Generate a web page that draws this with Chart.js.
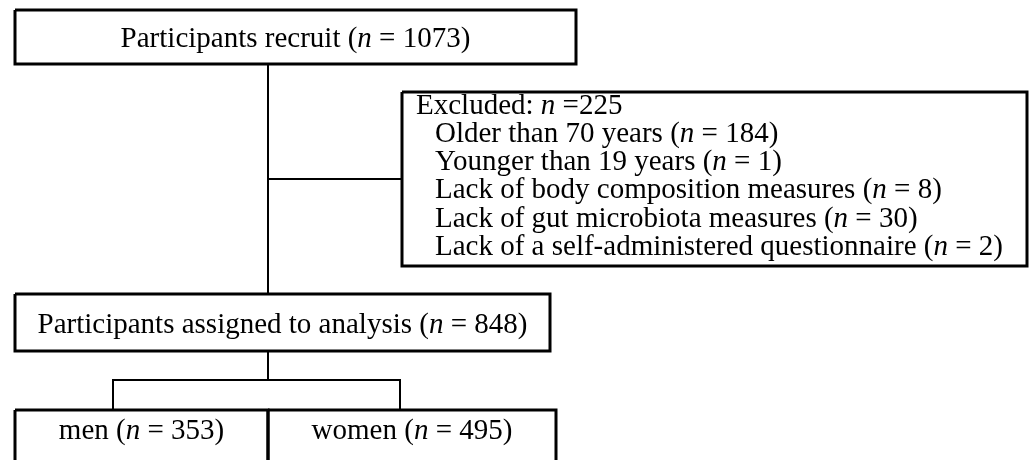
<!DOCTYPE html>
<html>
<head>
<meta charset="utf-8">
<script src="https://cdn.jsdelivr.net/npm/chart.js"></script>
<style>
  html, body { margin: 0; padding: 0; background: #fff; }
  #wrap { width: 1030px; height: 460px; }
</style>
</head>
<body>
<div id="wrap"><canvas id="flow" width="1030" height="460"></canvas></div>
<script>
// flow data
var stageLabels = ['Participants recruit', 'Participants assigned to analysis'];
var stageCounts = [1073, 848];
var excludedTotal = 225;
var exclusionReasons = [
  'Older than 70 years',
  'Younger than 19 years',
  'Lack of body composition measures',
  'Lack of gut microbiota measures',
  'Lack of a self-administered questionnaire'
];
var exclusionCounts = [184, 1, 8, 30, 2];
var groupLabels = ['men', 'women'];
var groupCounts = [353, 495];

// layout, in scale units (x 0..1030, y 0..460 top-down)
var boxTop = { l: 15, t: 10, r: 576, b: 64 };
var boxExcl = { l: 402, t: 92, r: 1027, b: 266 };
var boxAssigned = { l: 15, t: 294, r: 550, b: 351 };
var boxMen = { l: 15, t: 410, r: 268, b: 475 };
var boxWomen = { l: 268, t: 410, r: 556, b: 475 };
var stemX = 268, exclY = 179, splitY = 380, dropL = 113, dropR = 400;

var FONT = '29px "Liberation Serif", "Times New Roman", serif';
var LINE_H = 28.3;

function rect(b) {
  return [{x: b.l, y: b.t}, {x: b.r, y: b.t}, {x: b.r, y: b.b}, {x: b.l, y: b.b}, {x: b.l, y: b.t}];
}
function lineSet(pts, w) {
  return {
    data: pts, showLine: true, borderColor: '#000', borderWidth: w,
    pointRadius: 0, fill: false, tension: 0, borderJoinStyle: 'miter', borderCapStyle: 'butt'
  };
}

var datasets = [
  lineSet([{x: stemX, y: boxTop.b}, {x: stemX, y: boxAssigned.t}], 2),
  lineSet([{x: stemX, y: exclY}, {x: boxExcl.l, y: exclY}], 2),
  lineSet([{x: stemX, y: boxAssigned.b}, {x: stemX, y: splitY}], 2),
  lineSet([{x: dropL, y: boxMen.t}, {x: dropL, y: splitY}, {x: dropR, y: splitY}, {x: dropR, y: boxWomen.t}], 2),
  lineSet(rect(boxTop), 3),
  lineSet(rect(boxExcl), 3),
  lineSet(rect(boxAssigned), 3),
  lineSet(rect(boxMen), 3),
  lineSet(rect(boxWomen), 3)
];

function nText(label, count) {
  return [[label + ' (', false], ['n', true], [' = ' + count + ')', false]];
}

function drawRich(ctx, segs, x, y, center) {
  var w = 0;
  segs.forEach(function (s) {
    ctx.font = (s[1] ? 'italic ' : '') + FONT;
    w += ctx.measureText(s[0]).width;
  });
  var cx = center ? x - w / 2 : x;
  segs.forEach(function (s) {
    ctx.font = (s[1] ? 'italic ' : '') + FONT;
    ctx.fillText(s[0], cx, y);
    cx += ctx.measureText(s[0]).width;
  });
}

var textPlugin = {
  id: 'flowText',
  afterDatasetsDraw: function (chart) {
    var ctx = chart.ctx, xs = chart.scales.x, ys = chart.scales.y;
    var px = function (v) { return xs.getPixelForValue(v); };
    var py = function (v) { return ys.getPixelForValue(v); };
    ctx.save();
    ctx.fillStyle = '#000';
    ctx.textBaseline = 'alphabetic';

    drawRich(ctx, nText(stageLabels[0], stageCounts[0]), px((boxTop.l + boxTop.r) / 2), py((boxTop.t + boxTop.b) / 2 + 10), true);
    drawRich(ctx, nText(stageLabels[1], stageCounts[1]), px((boxAssigned.l + boxAssigned.r) / 2), py((boxAssigned.t + boxAssigned.b) / 2 + 10), true);

    var by = boxExcl.t + 21.5;
    drawRich(ctx, [['Excluded: ', false], ['n', true], [' =' + excludedTotal, false]], px(boxExcl.l + 14), py(by), false);
    exclusionReasons.forEach(function (r, i) {
      drawRich(ctx, nText(r, exclusionCounts[i]), px(boxExcl.l + 33), py(by + LINE_H * (i + 1)), false);
    });

    drawRich(ctx, nText(groupLabels[0], groupCounts[0]), px((boxMen.l + boxMen.r) / 2), py(439), true);
    drawRich(ctx, nText(groupLabels[1], groupCounts[1]), px((boxWomen.l + boxWomen.r) / 2), py(439), true);
    ctx.restore();
  }
};

new Chart(document.getElementById('flow').getContext('2d'), {
  type: 'scatter',
  data: { datasets: datasets },
  options: {
    responsive: false,
    animation: false,
    events: [],
    layout: { padding: 0 },
    plugins: { legend: { display: false }, tooltip: { enabled: false } },
    scales: {
      x: { type: 'linear', min: 0, max: 1030, display: false },
      y: { type: 'linear', min: 0, max: 460, reverse: true, display: false }
    }
  },
  plugins: [textPlugin]
});
</script>
</body>
</html>
